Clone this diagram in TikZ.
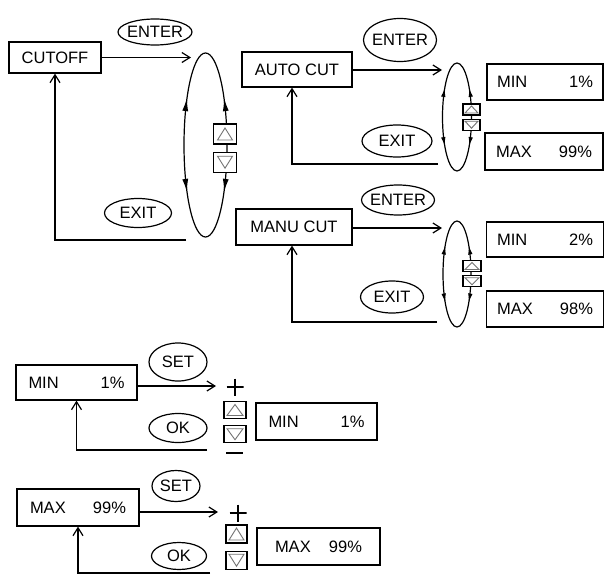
\documentclass[tikz,border=0pt]{standalone}
\usepackage{fontspec}
\setmainfont{Liberation Sans}
\usetikzlibrary{arrows.meta, shapes.geometric, positioning, decorations.markings}

\newcommand{\lcd}[3][96pt]{\makebox[#1]{#2\hfill#3}}

\begin{document}
\begin{tikzpicture}[
        x=1pt, y=1pt,
        line width=1.2pt,
        every node/.style={font=\fontsize{16.5}{19}\selectfont},
        box/.style={draw, inner sep=0pt, minimum height=36pt},
        btn/.style={draw, ellipse, inner xsep=-6pt, inner ysep=-6pt},
        key/.style={draw, fill=white, inner sep=0pt},
        keytri/.style={draw=black!55, line width=0.9pt},
        upkey/.style={key, path picture={
            \draw[keytri] ([shift={(#1,#1)}]path picture bounding box.south west)
              -- ([shift={(-#1,#1)}]path picture bounding box.south east)
              -- ([yshift=-#1]path picture bounding box.north) -- cycle;}},
        upkey/.default=4pt,
        dnkey/.style={key, path picture={
            \draw[keytri] ([shift={(#1,-#1)}]path picture bounding box.north west)
              -- ([shift={(-#1,-#1)}]path picture bounding box.north east)
              -- ([yshift=#1]path picture bounding box.south) -- cycle;}},
        dnkey/.default=4pt,
        plus/.style={inner sep=0pt, minimum width=17pt, minimum height=17pt, path picture={
            \draw (path picture bounding box.west) -- (path picture bounding box.east)
                  (path picture bounding box.north) -- (path picture bounding box.south);}},
        minus/.style={inner sep=0pt, minimum width=17pt, minimum height=4pt, path picture={
            \draw (path picture bounding box.west) -- (path picture bounding box.east);}},
        arrow/.style={-{Straight Barb[length=8pt,width=10pt]}},
        loop/.style={postaction={decorate}, decoration={markings,
            mark=at position #1 with {\arrow{Latex[length=13pt,width=6pt]}},
            mark=at position 0.5-#1 with {\arrowreversed{Latex[length=13pt,width=6pt]}},
            mark=at position 0.5+#1 with {\arrow{Latex[length=13pt,width=6pt]}},
            mark=at position 1-#1 with {\arrowreversed{Latex[length=13pt,width=6pt]}}}},
        smallloop/.style={postaction={decorate}, decoration={markings,
            mark=at position 0.125 with {\arrow{Latex[length=9pt,width=4.5pt]}},
            mark=at position 0.375 with {\arrowreversed{Latex[length=9pt,width=4.5pt]}},
            mark=at position 0.625 with {\arrow{Latex[length=9pt,width=4.5pt]}},
            mark=at position 0.875 with {\arrowreversed{Latex[length=9pt,width=4.5pt]}}}}
    ]
    \useasboundingbox (0,0) rectangle (605,-576);

    % Nodes
    \node[box, minimum width=92pt, minimum height=31pt] (cutoff) at (55,-57.5) {CUTOFF};
    \node[btn, minimum width=74pt, minimum height=26pt] (enter1) at (155,-32) {ENTER};
    \node[btn, minimum width=67pt, minimum height=29pt] (exit1) at (138,-213) {EXIT};

    \node[box, minimum width=110pt, minimum height=35pt] (autocut) at (297,-69.5) {AUTO CUT};
    \node[btn, minimum width=73pt, minimum height=43pt] (enter2) at (400,-40) {ENTER};
    \node[btn, minimum width=70pt, minimum height=32pt] (exit2) at (397,-141) {EXIT};
    \node[box, minimum width=116pt] (automin) at (545,-82) {\lcd{MIN}{1\%}};
    \node[box, minimum width=118pt, minimum height=37pt] (automax) at (544,-151.5) {\lcd{MAX}{99\%}};

    \node[box, minimum width=116pt] (manucut) at (294,-227) {MANU CUT};
    \node[btn, minimum width=73pt, minimum height=30pt] (enter3) at (398,-200) {ENTER};
    \node[btn, minimum width=63pt, minimum height=32pt] (exit3) at (392,-297) {EXIT};
    \node[box, minimum width=117pt, minimum height=35pt] (manumin) at (545,-239.5) {\lcd{MIN}{2\%}};
    \node[box, minimum width=117pt] (manumax) at (545,-309) {\lcd{MAX}{98\%}};

    \node[box, minimum width=121pt, minimum height=35pt] (setmin) at (76.5,-382.5) {\lcd{MIN}{1\%}};
    \node[btn, minimum width=58pt, minimum height=38pt] (set1) at (178,-362) {SET};
    \node[btn, minimum width=58pt, minimum height=29pt] (ok1) at (178,-428) {OK};
    \node[box, minimum width=121pt, minimum height=37pt] (newmin) at (316.5,-421.5) {\lcd{MIN}{1\%}};

    \node[box, minimum width=122pt, minimum height=37pt] (setmax) at (78,-507.5) {\lcd{MAX}{99\%}};
    \node[btn, minimum width=48pt, minimum height=31pt] (set2) at (176,-486) {SET};
    \node[btn, minimum width=55pt, minimum height=27pt] (ok2) at (179,-556) {OK};
    \node[box, minimum width=123pt, minimum height=37pt] (newmax) at (318.5,-546.5) {\lcd[87pt]{MAX}{99\%}};

    % Selectors
    \coordinate (sel1) at (205.5,-145);
    \coordinate (sel2) at (457,-117);
    \coordinate (sel3) at (457,-274);
    \draw[loop=0.12] (sel1) ellipse [x radius=21.5, y radius=92];
    \draw[smallloop] (sel2) ellipse [x radius=14.5, y radius=54];
    \draw[smallloop] (sel3) ellipse [x radius=14, y radius=53];

    \node[upkey, minimum width=23pt, minimum height=20pt] (up1) at (225,-134) {};
    \node[dnkey, minimum width=23pt, minimum height=20pt, below=7pt of up1] (dn1) {};
    \node[upkey=2pt, minimum width=17pt, minimum height=11pt] (up2) at (471.5,-109.5) {};
    \node[dnkey=2pt, minimum width=17pt, minimum height=11pt, below=3pt of up2] (dn2) {};
    \node[upkey=2pt, minimum width=18pt, minimum height=11pt] (up3) at (472,-266) {};
    \node[dnkey=2pt, minimum width=18pt, minimum height=11pt, below=3pt of up3] (dn3) {};

    \node[plus] (plus1) at (235,-387) {};
    \node[upkey=3pt, minimum width=22pt, minimum height=17pt] (up4) at (235,-410) {};
    \node[dnkey=3pt, minimum width=22pt, minimum height=17pt, below=6pt of up4] (dn4) {};
    \node[minus] (minus1) at (234.5,-453) {};

    \node[plus] (plus2) at (238,-513) {};
    \node[upkey=3pt, minimum width=21pt, minimum height=18pt] (up5) at (236.5,-534) {};
    \node[dnkey=3pt, minimum width=21pt, minimum height=18pt, below=7pt of up5] (dn5) {};

    % Arrows
    \coordinate (in1) at (191,-57.5);
    \coordinate (out1) at (186,-240);
    \coordinate (in2) at (442,-70);
    \coordinate (out2) at (438,-164);
    \coordinate (in3) at (442,-228);
    \coordinate (out3) at (437,-322);
    \coordinate (in4) at (216,-386);
    \coordinate (out4) at (207,-450);
    \coordinate (in5) at (218,-512);
    \coordinate (out5) at (210,-573);

    \draw[arrow] (cutoff.east |- in1) -- (in1);
    \draw[arrow] (out1) -| (cutoff);
    \draw[arrow] (autocut.east |- in2) -- (in2);
    \draw[arrow] (out2) -| ([xshift=-5pt]autocut.south);
    \draw[arrow] (manucut.east |- in3) -- (in3);
    \draw[arrow] (out3) -| ([xshift=-2pt]manucut.south);
    \draw[arrow] (setmin.east |- in4) -- (in4);
    \draw[arrow] (out4) -| (setmin);
    \draw[arrow] (setmax.east |- in5) -- (in5);
    \draw[arrow] (out5) -| (setmax);

\end{tikzpicture}
\end{document}
